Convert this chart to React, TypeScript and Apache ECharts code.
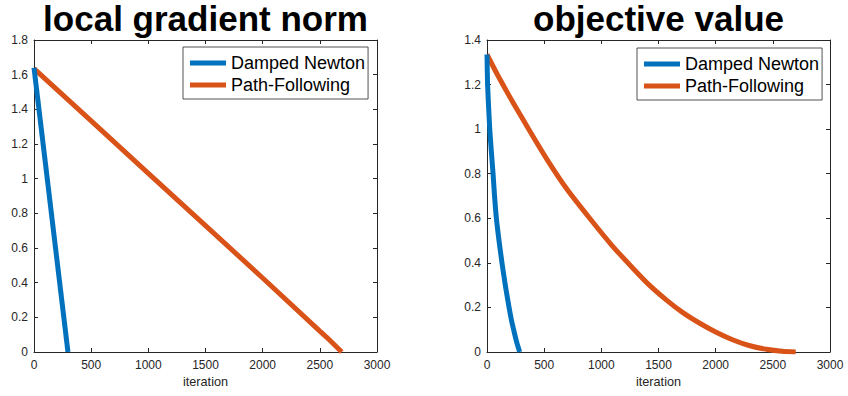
import React, { useEffect, useRef } from "react";
import * as echarts from "echarts";

const seriesNames = ["Damped Newton", "Path-Following"];
const titles = ["local gradient norm", "objective value"];
const xLabel = "iteration";

// left panel: local gradient norm
const gradNewtonIter = [0, 297];
const gradNewtonVal = [1.64, 0];
const gradPathIter = [0, 500, 1000, 1500, 2000, 2500, 2560, 2692];
const gradPathVal = [1.635, 1.333, 1.031, 0.729, 0.427, 0.12, 0.085, 0];

// right panel: objective value
const objNewtonIter = [0, 5, 14, 24, 38, 53, 66, 82, 105, 131, 160, 193, 215, 240, 262, 286];
const objNewtonVal = [1.335, 1.2, 1.1, 1.0, 0.9, 0.8, 0.7, 0.6, 0.5, 0.4, 0.3, 0.2, 0.14, 0.085, 0.04, 0];
const objPathIter = [0, 100, 227, 370, 520, 700, 898, 1090, 1278, 1420, 1570, 1710, 1861, 2000, 2153, 2300, 2444, 2580, 2700];
const objPathVal = [1.335, 1.236, 1.12, 0.995, 0.868, 0.73, 0.6, 0.48, 0.375, 0.3, 0.233, 0.178, 0.129, 0.09, 0.054, 0.028, 0.012, 0.003, 0];

const leftYMax = 1.8;
const rightYMax = 1.4;
const xMax = 3000;
const xStep = 500;
const yStep = 0.2;

const BLUE = "#0072BD";
const ORANGE = "#D95319";
const AX = "#262626";
const FONT = "'Liberation Sans', Arial, Helvetica, sans-serif";

const zip = (a: number[], b: number[]) => a.map((v, i) => [v, b[i]]);

export default function App() {
  const ref = useRef<HTMLDivElement>(null);
  useEffect(() => {
    if (!ref.current) return;
    const chart = echarts.init(ref.current, undefined, { renderer: "svg" });
    const grids = [
      { left: 34, top: 40, width: 343, height: 312 },
      { left: 487, top: 40, width: 343, height: 312 },
    ];
    const tick = { show: true, inside: true, length: 4, lineStyle: { color: AX, width: 1 } };
    const line = { show: true, onZero: false, lineStyle: { color: AX, width: 1 } };
    const xAxes: any[] = [];
    const yAxes: any[] = [];
    [0, 1].forEach((g) => {
      xAxes.push({
        type: "value", gridIndex: g, position: "bottom", min: 0, max: xMax, interval: xStep,
        axisLine: line, axisTick: tick, splitLine: { show: false },
        axisLabel: { color: AX, fontSize: 12, fontFamily: FONT, margin: 7, showMinLabel: true, showMaxLabel: true, formatter: (v: number) => String(v) },
        name: xLabel, nameLocation: "middle", nameGap: 23,
        nameTextStyle: { color: AX, fontSize: 12.7, fontFamily: FONT },
      });
      xAxes.push({
        type: "value", gridIndex: g, position: "top", min: 0, max: xMax, interval: xStep,
        axisLine: line, axisTick: tick, splitLine: { show: false }, axisLabel: { show: false },
      });
      const yMax = g === 0 ? leftYMax : rightYMax;
      yAxes.push({
        type: "value", gridIndex: g, position: "left", min: 0, max: yMax, interval: yStep,
        axisLine: line, axisTick: tick, splitLine: { show: false },
        axisLabel: { color: AX, fontSize: 12, fontFamily: FONT, margin: 6, showMinLabel: true, showMaxLabel: true },
      });
      yAxes.push({
        type: "value", gridIndex: g, position: "right", min: 0, max: yMax, interval: yStep,
        axisLine: line, axisTick: tick, splitLine: { show: false }, axisLabel: { show: false },
      });
    });
    const mk = (name: string, data: number[][], color: string, g: number, smooth: number | false) => ({
      type: "line", name, data, xAxisIndex: g * 2, yAxisIndex: g * 2,
      showSymbol: false, symbol: "none", smooth,
      lineStyle: { color, width: 5, join: "round" }, itemStyle: { color }, z: name === seriesNames[0] ? 3 : 2,
    });
    const legendBase = {
      orient: "vertical", icon: "rect", itemWidth: 36, itemHeight: 5, itemGap: 4,
      data: seriesNames, backgroundColor: "#fff", borderColor: AX, borderWidth: 0.8,
      padding: [7, 3, 5, 7], itemTextGap: 4,
      textStyle: { color: "#000", fontSize: 18, fontFamily: FONT, lineHeight: 18 },
      selectedMode: false,
    };
    chart.setOption({
      animation: false,
      backgroundColor: "#fff",
      grid: grids,
      xAxis: xAxes,
      yAxis: yAxes,
      legend: [
        { ...legendBase, left: 183, top: 47 },
        { ...legendBase, left: 637, top: 48 },
      ],
      graphic: [
        { type: "text", x: 205.5, y: 18, style: { text: titles[0], textAlign: "center", textVerticalAlign: "middle", font: `bold 35px ${FONT}`, fill: "#000" } },
        { type: "text", x: 658.5, y: 18, style: { text: titles[1], textAlign: "center", textVerticalAlign: "middle", font: `bold 35px ${FONT}`, fill: "#000" } },
      ],
      series: [
        mk(seriesNames[0], zip(gradNewtonIter, gradNewtonVal), BLUE, 0, false),
        mk(seriesNames[1], zip(gradPathIter, gradPathVal), ORANGE, 0, false),
        mk(seriesNames[0], zip(objNewtonIter, objNewtonVal), BLUE, 1, 0.2),
        mk(seriesNames[1], zip(objPathIter, objPathVal), ORANGE, 1, 0.2),
      ],
    });
    return () => chart.dispose();
  }, []);
  return <div ref={ref} style={{ width: 848, height: 396, position: "fixed", left: 0, top: 0, background: "#fff" }} />;
}
